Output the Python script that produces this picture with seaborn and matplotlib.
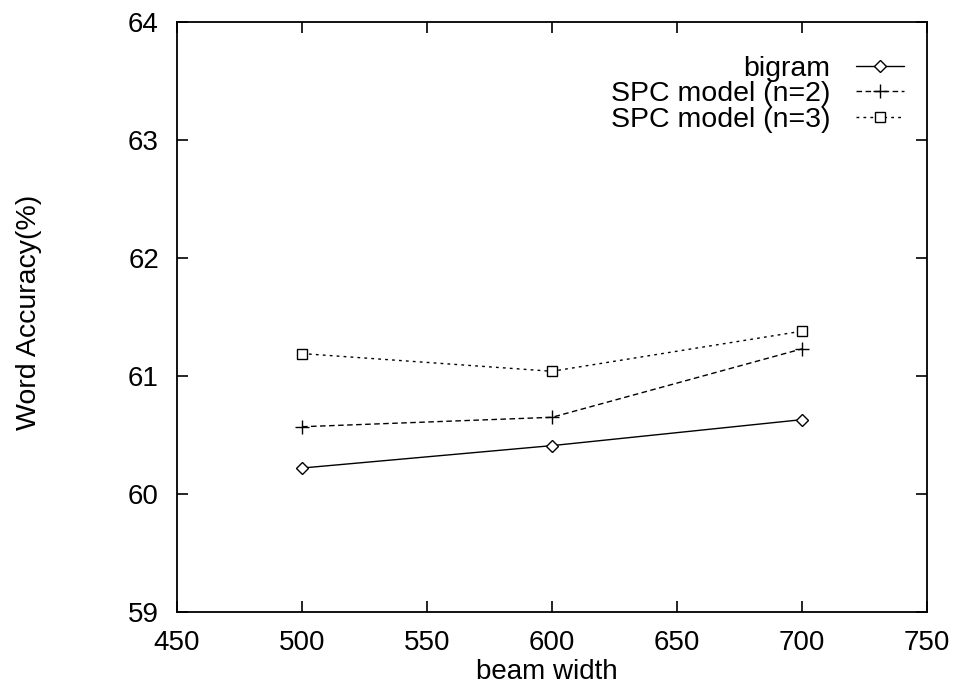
import matplotlib
matplotlib.use("Agg")
import matplotlib.pyplot as plt
import seaborn as sns
import pandas as pd

beam_width = [500, 600, 700]
bigram = [60.22, 60.41, 60.63]
spc_n2 = [60.57, 60.65, 61.23]
spc_n3 = [61.19, 61.04, 61.38]
labels = ["bigram", "SPC model (n=2)", "SPC model (n=3)"]

sns.set_theme(style="ticks")
plt.rcParams["font.family"] = ["Liberation Sans", "DejaVu Sans"]
plt.rcParams["text.color"] = "black"

fig = plt.figure(figsize=(9.57, 6.89), dpi=100)
ax = fig.add_axes([177 / 957, 1 - 612 / 689, 750 / 957, 590 / 689])

styles = [
    dict(marker="D", markersize=6, linestyle="-"),
    dict(marker="+", markersize=10, linestyle=(0, (4, 2.5))),
    dict(marker="s", markersize=6.5, linestyle=(0, (2, 3))),
]
for vals, lab, st in zip([bigram, spc_n2, spc_n3], labels, styles):
    df = pd.DataFrame({"beam": beam_width, "acc": vals})
    sns.lineplot(data=df, x="beam", y="acc", ax=ax, color="black", label=lab,
                 linewidth=1.0, mfc="white", mec="black", mew=1.0, **st)

ax.set_xlim(450, 750)
ax.set_ylim(59, 64)
ax.set_xticks([450, 500, 550, 600, 650, 700, 750])
ax.set_yticks([59, 60, 61, 62, 63, 64])
ax.tick_params(direction="in", length=8, width=1.2, top=True, right=True,
               labelsize=20, colors="black", pad=13)
for s in ax.spines.values():
    s.set_linewidth(1.3)
    s.set_color("black")

ax.set_xlabel("beam width", fontsize=20, color="black")
ax.set_ylabel("Word Accuracy(%)", fontsize=20.5, color="black")
ax.xaxis.set_label_coords((547 - 177) / 750, -(659 - 612) / 590)
ax.yaxis.set_label_coords(-(177 - 42) / 750, (612 - 312) / 590)

leg = ax.legend(loc="upper right", markerfirst=False, frameon=False,
                fontsize=20.5, handlelength=1.7, labelspacing=-0.02,
                handletextpad=0.9, bbox_to_anchor=(0.985, 0.962), borderaxespad=0)
for t in leg.get_texts():
    t.set_color("black")

fig.savefig("out.png", dpi=100)
